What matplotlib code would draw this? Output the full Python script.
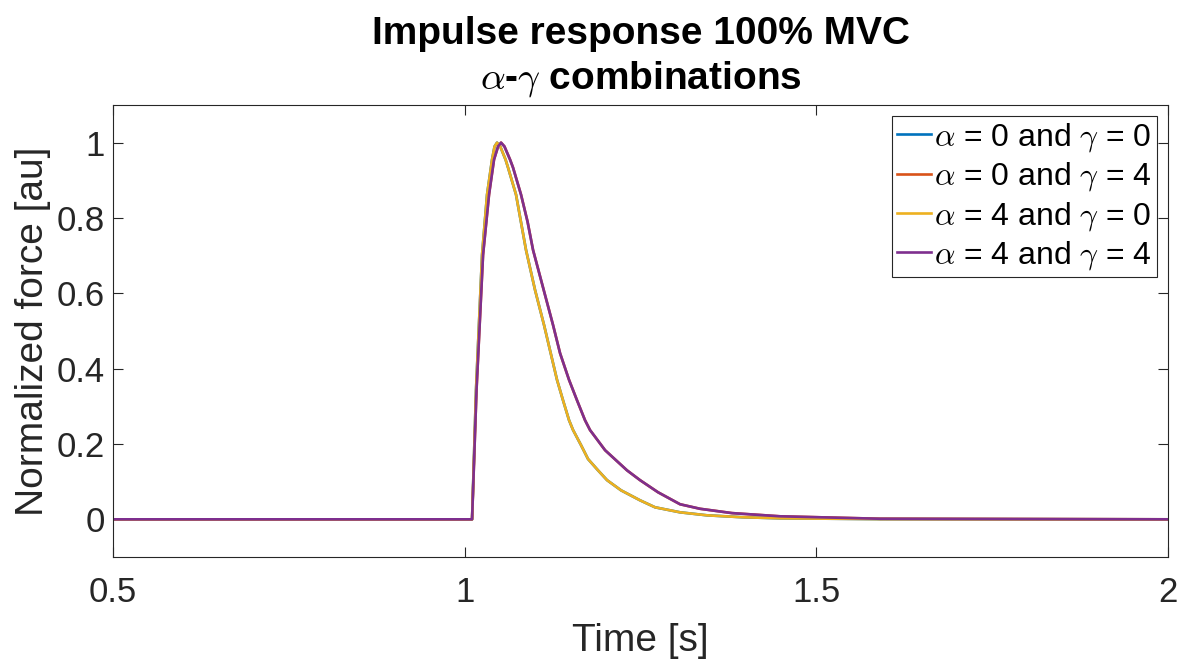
import matplotlib
matplotlib.use("Agg")
import matplotlib.pyplot as plt

plt.rcParams['font.family'] = ['Liberation Sans', 'DejaVu Sans']
plt.rcParams['mathtext.fontset'] = 'cm'

# Data (time [s], normalized force [au])
t_fast = [0.5, 1.0105, 1.0161, 1.0247, 1.0318, 1.0389, 1.0425, 1.0460, 1.0505,
          1.0581, 1.0616, 1.0730, 1.0872, 1.1000, 1.1128, 1.1313, 1.1398,
          1.1484, 1.1541, 1.1654, 1.1754, 1.1896, 1.2024, 1.2223, 1.2493,
          1.2707, 1.3062, 1.3446, 1.3950, 1.4484, 1.5906, 2.0]
f_fast = [0.0, 0.0, 0.343, 0.702, 0.862, 0.955, 0.99, 1.0, 0.99,
          0.955, 0.934, 0.862, 0.715, 0.609, 0.516, 0.370, 0.316,
          0.263, 0.237, 0.197, 0.160, 0.130, 0.104, 0.077, 0.0505,
          0.0319, 0.0186, 0.0106, 0.0055, 0.0027, 0.0005, 0.0]

t_slow = [0.5, 1.0105, 1.0168, 1.0261, 1.0346, 1.0417, 1.0475, 1.0517, 1.0565,
          1.0645, 1.0687, 1.0801, 1.0894, 1.0972, 1.1256, 1.1356, 1.1484,
          1.1597, 1.1711, 1.1782, 1.1996, 1.2308, 1.2493, 1.2749, 1.3062,
          1.3346, 1.3801, 1.4484, 1.5906, 2.0]
f_slow = [0.0, 0.0, 0.343, 0.702, 0.862, 0.955, 0.99, 1.0, 0.99,
          0.955, 0.934, 0.862, 0.790, 0.715, 0.516, 0.441, 0.370,
          0.316, 0.263, 0.237, 0.1835, 0.130, 0.104, 0.0718, 0.040,
          0.028, 0.0165, 0.008, 0.0015, 0.0]

series_labels = [r'$\alpha$ = 0 and $\gamma$ = 0',
                 r'$\alpha$ = 0 and $\gamma$ = 4',
                 r'$\alpha$ = 4 and $\gamma$ = 0',
                 r'$\alpha$ = 4 and $\gamma$ = 4']
series_t = [t_fast, t_slow, t_fast, t_slow]
series_f = [f_fast, f_slow, f_fast, f_slow]
colors = ['#0072BD', '#D95319', '#EDB120', '#7E2F8E']

xticks = [0.5, 1, 1.5, 2]
xticklabels = ['0.5', '1', '1.5', '2']
yticks = [0, 0.2, 0.4, 0.6, 0.8, 1]
yticklabels = ['0', '0.2', '0.4', '0.6', '0.8', '1']

fig = plt.figure(figsize=(11.82, 6.59), dpi=100)
ax = fig.add_axes([0.0956, 0.1548, 0.8926, 0.6859])

for t, f, c, lab in zip(series_t, series_f, colors, series_labels):
    ax.plot(t, f, color=c, lw=1.9, label=lab, solid_joinstyle='round')

ax.set_xlim(0.5, 2)
ax.set_ylim(-0.1, 1.1)
ax.set_xticks(xticks)
ax.set_xticklabels(xticklabels)
ax.set_yticks(yticks)
ax.set_yticklabels(yticklabels)
ax.tick_params(direction='in', length=7.5, width=0.8, colors='0.15',
               labelsize=25, top=True, right=True)
ax.tick_params(axis='x', pad=14)
ax.tick_params(axis='y', pad=6)
for s in ax.spines.values():
    s.set_color('0.15')
    s.set_linewidth(0.8)

ax.set_xlabel('Time [s]', fontsize=28, color='0.15', labelpad=10)
ax.set_ylabel('Normalized force [au]', fontsize=28, color='0.15', labelpad=4)
ax.set_title('Impulse response 100% MVC\n' + r'$\alpha$-$\gamma$ combinations',
             fontsize=28, fontweight='bold', pad=12, linespacing=1.22)

leg = ax.legend(loc='upper right', fontsize=23, handlelength=1.07,
                handletextpad=0.1, borderpad=0.15, labelspacing=0.2,
                borderaxespad=0.35, fancybox=False, framealpha=1)
leg.get_frame().set_edgecolor('0.15')
leg.get_frame().set_linewidth(0.8)

fig.savefig('out.png', dpi=100)
